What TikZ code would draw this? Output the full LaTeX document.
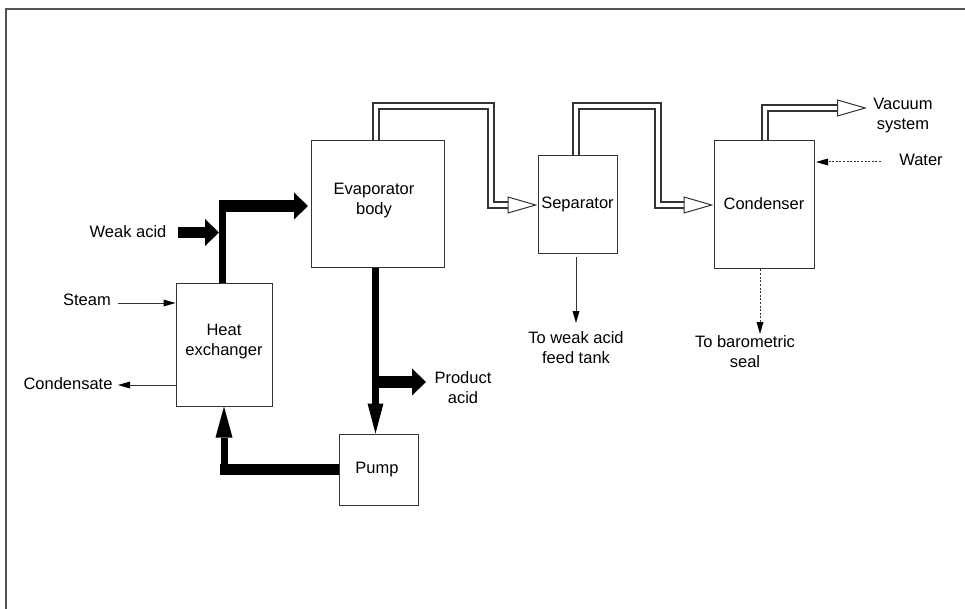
\documentclass[tikz,border=0pt]{standalone}
\usepackage{fontspec}
\setmainfont{Liberation Sans}
\usetikzlibrary{arrows.meta}
\definecolor{framegray}{HTML}{555555}
\definecolor{linegray}{HTML}{333333}

\begin{document}
\begin{tikzpicture}[x=1pt, y=-1pt,
  font=\fontsize{16.5}{20}\selectfont,
  unitbox/.style={draw=linegray, line width=1pt, fill=white, inner sep=0pt},
  unittext/.style={align=center, inner sep=0pt},
  tag/.style={align=center, inner sep=0pt},
  acidv/.style={line width=7pt},
  acidh/.style={line width=11.5pt},
  headbig/.style={-{Triangle[length=14pt, width=27pt, line width=0pt]}},
  pipe/.style={draw=linegray, line width=1.1pt, double=white, double distance=4.9pt,
    -{Triangle[open, fill=white, length=30pt, width=17pt, line width=1pt]}},
  thin flow/.style={draw=linegray, line width=1pt, -{Triangle[length=12pt, width=7pt, line width=0pt, fill=black]}},
  dot flow/.style={thin flow, dash pattern=on 2pt off 1.6pt}]

\useasboundingbox (0,0) rectangle (965,609);
\draw[framegray, line width=1.6pt] (6,609) -- (6,9) -- (965,9);

\node[unitbox, minimum width=133pt, minimum height=127pt,
  label={[unittext, xshift=-3.5pt, yshift=4pt]center:Evaporator\\body}] at (377.5,204.5) (evap) {};
\node[unitbox, minimum width=79pt, minimum height=98pt,
  label={[unittext, yshift=0.5pt]center:Separator}] at (577.5,205) (sep) {};
\node[unitbox, minimum width=100pt, minimum height=128pt,
  label={[unittext, yshift=1pt]center:Condenser}] at (764,205) (cond) {};
\node[unitbox, minimum width=96pt, minimum height=123pt,
  label={[unittext, yshift=2.5pt]center:Heat\\exchanger}] at (224,344.5) (hx) {};
\node[unitbox, minimum width=79pt, minimum height=71pt,
  label={[unittext, xshift=-1.5pt]center:Pump}] at (378.5,469.5) (pump) {};

\node[tag] at (128,232) (weak) {Weak acid};
\node[tag] at (87,300) (steam) {Steam};
\node[tag] at (68,384) (condensate) {Condensate};
\node[tag] at (463,387.5) (product) {Product\\acid};
\node[tag] at (576,348) (feed) {To weak acid\\feed tank};
\node[tag] at (745,352) (seal) {To barometric\\seal};
\node[tag] at (903,115.5) (vacuum) {Vacuum\\system};
\node[tag] at (921,160) (water) {Water};

\coordinate (riser) at (222.5,206);
\coordinate (tee) at (375.5,382);
\coordinate (weakin) at (178,232.5);
\coordinate (weakend) at (219,232.5);
\coordinate (steamin) at (118,303);
\coordinate (condout) at (118,385);
\coordinate (waterin) at (881,162);
\coordinate (vacuumend) at (867,108);

\draw[acidv] ([xshift=-1.5pt]hx.north) -- (riser);
\draw[acidh, headbig] (219,206) -- (308,206);
\draw[acidh, headbig] (weakin) -- (weakend);
\draw[acidv, -{Triangle[length=30pt, width=16pt, line width=0pt]}] ([xshift=-2pt]evap.south) -- ([xshift=-3pt]pump.north);
\draw[acidh, headbig] (tee) -- (426,382);
\draw[acidh] (pump.west) -- (220,469.5);
\draw[acidv, -{Triangle[length=31pt, width=17pt, line width=0pt]}] (224,469.5) -- (hx.south);

\draw[pipe] ([xshift=-1.5pt]evap.north) -- (376,106) -- (491,106) -- (491,205) -- (sep.west);
\draw[pipe] ([xshift=-1.5pt]sep.north) -- (576,106) -- (658,106) -- (658,205) -- (cond.west);
\draw[pipe] ([xshift=1pt]cond.north) -- (765,108) -- (vacuumend);

\draw[thin flow] (steamin) -- (hx.west |- steamin);
\draw[thin flow] (hx.west |- condout) -- (condout);
\draw[thin flow] ([xshift=-1.5pt, yshift=-3pt]sep.south) -- (576,323);
\draw[dot flow] ([xshift=-4pt]cond.south) -- (760,334);
\draw[dot flow] (waterin) -- (816,162);
\end{tikzpicture}
\end{document}
